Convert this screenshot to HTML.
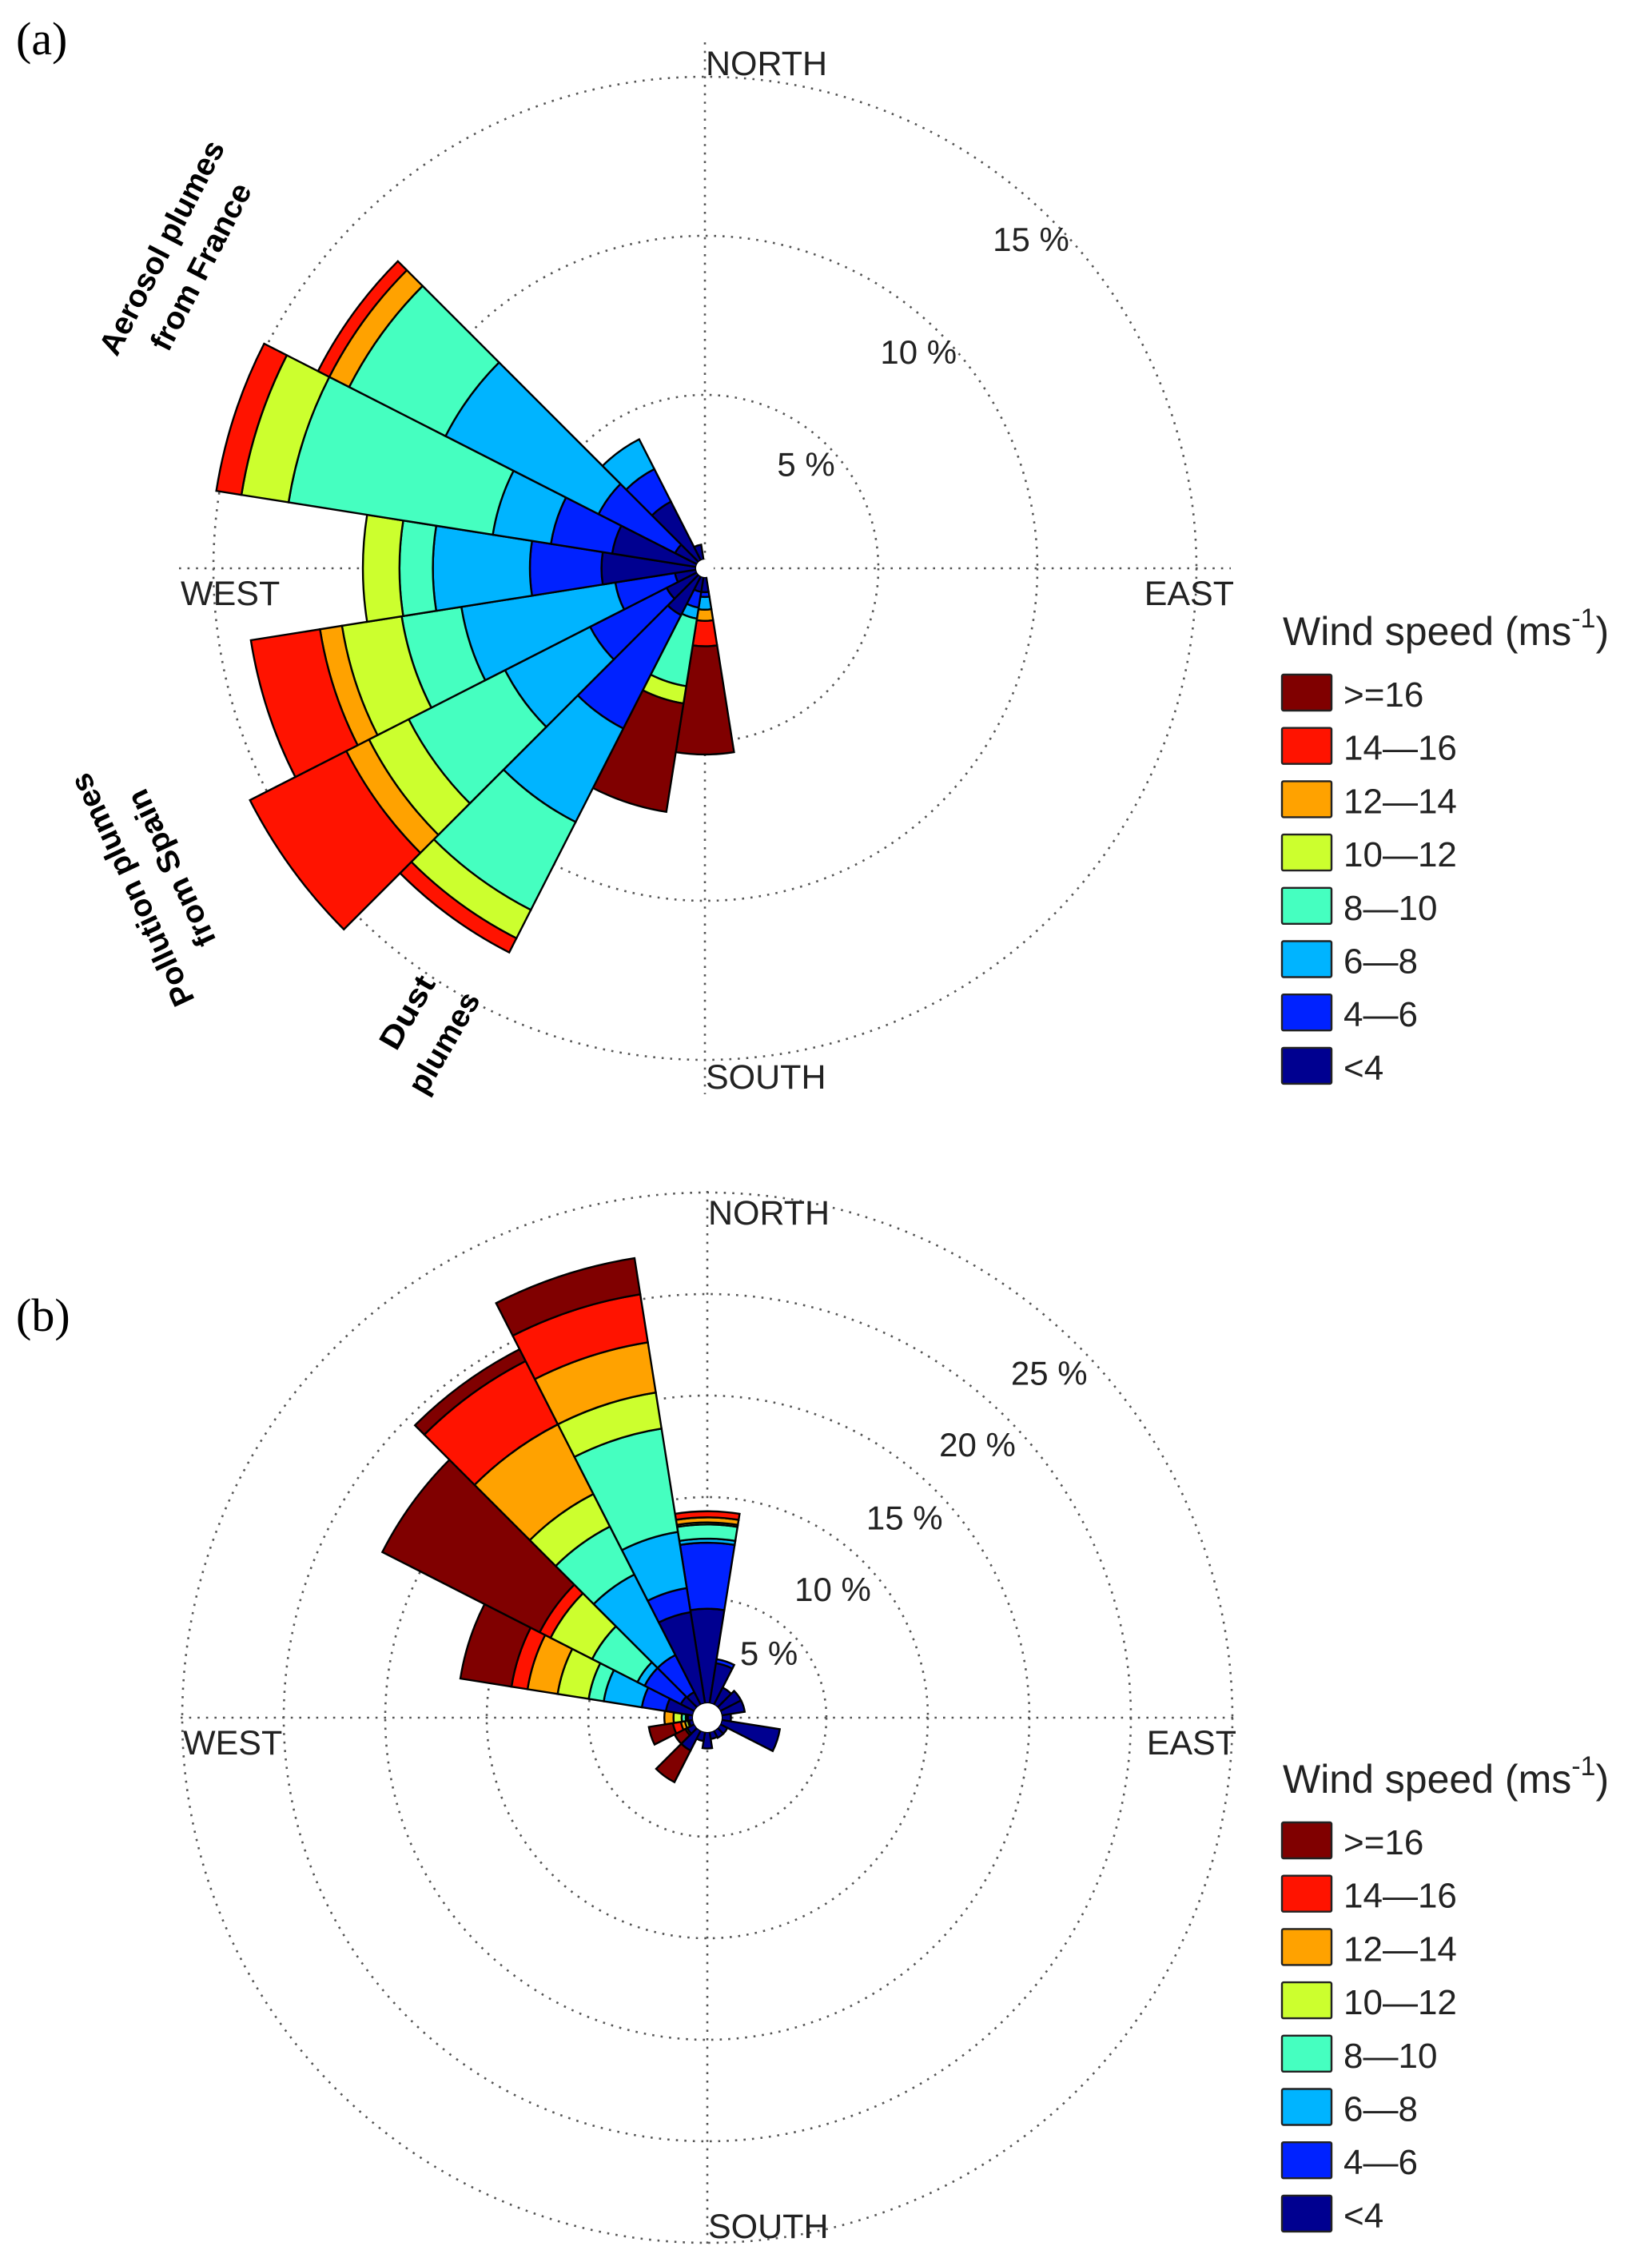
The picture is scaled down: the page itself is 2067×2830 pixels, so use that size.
<!DOCTYPE html>
<html><head><meta charset="utf-8"><style>
html,body{margin:0;padding:0;background:#fff;}
svg{display:block;}
text{font-family:"Liberation Sans",sans-serif;fill:#222;}
</style></head><body>
<svg id="fig" width="2067" height="2830" viewBox="0 0 2067 2830" xmlns="http://www.w3.org/2000/svg">
<rect x="0" y="0" width="2067" height="2830" fill="#fff"/>
<g id="gA"></g>
<g id="gB"></g>
<text x="20" y="68" style="font-family:'Liberation Serif',serif;font-size:58px;fill:#000">(a)</text>
<text x="20" y="1665" style="font-family:'Liberation Serif',serif;font-size:58px;fill:#000">(b)</text>
<g style="font-family:'Liberation Sans','DejaVu Sans',sans-serif;font-weight:bold;font-size:39px">
<text transform="translate(205,311) rotate(-62.7)" text-anchor="middle" dominant-baseline="middle" textLength="296" lengthAdjust="spacingAndGlyphs" style="fill:#000;font-weight:bold">Aerosol plumes</text>
<text transform="translate(254,335) rotate(-62.7)" text-anchor="middle" dominant-baseline="middle" textLength="230" lengthAdjust="spacingAndGlyphs" style="fill:#000;font-weight:bold">from France</text>
<text transform="translate(168,1112) rotate(-115)" text-anchor="middle" dominant-baseline="middle" textLength="316" lengthAdjust="spacingAndGlyphs" style="fill:#000;font-weight:bold">Pollution plumes</text>
<text transform="translate(217,1085) rotate(-115)" text-anchor="middle" dominant-baseline="middle" textLength="212" lengthAdjust="spacingAndGlyphs" style="fill:#000;font-weight:bold">from Spain</text>
<text transform="translate(512,1268) rotate(-60)" text-anchor="middle" dominant-baseline="middle" textLength="100" lengthAdjust="spacingAndGlyphs" style="fill:#000;font-weight:bold">Dust</text>
<text transform="translate(558,1306) rotate(-60)" text-anchor="middle" dominant-baseline="middle" textLength="140" lengthAdjust="spacingAndGlyphs" style="fill:#000;font-weight:bold">plumes</text>
</g>
</svg>
<script>
// ---- data ----
var directions = [0,18,36,54,72,90,108,126,144,162,180,198,216,234,252,270,288,306,324,342];
var speedLabels = [">=16","14\u201416","12\u201414","10\u201412","8\u201410","6\u20148","4\u20146","<4"];
var ringsA = [5,10,15];
var ringLabelsA = ["5 %","10 %","15 %"];
var ringsB = [5,10,15,20,25];
var ringLabelsB = ["5 %","10 %","15 %","20 %","25 %"];
// panel (a), % frequency per speed class, by direction bin
var aLt4   = [0,0,0,0,0,0,0,0,0,0,0.3,0.3,1.2,0.9,0.5,2.8,2.5,0.6,1.9,0.3];
var a4to6  = [0,0,0,0,0,0,0,0,0,0,0.15,0.5,4.0,2.7,1.9,2.25,1.95,2.7,1.15,0];
var a6to8  = [0,0,0,0,0,0,0,0,0,0,0.4,0.35,3.3,3.0,4.9,3.05,1.85,5.4,1.05,0];
var a8to10 = [0,0,0,0,0,0,0,0,0,0,0,2.15,3.1,3.4,1.9,1.05,6.5,3.4,0,0];
var a10to12= [0,0,0,0,0,0,0,0,0,0,0,0.55,1.0,1.4,1.9,1.15,1.5,0,0,0];
var a12to14= [0,0,0,0,0,0,0,0,0,0,0.35,0,0,0.8,0.7,0,0,0.7,0,0];
var a14to16= [0,0,0,0,0,0,0,0,0,0,0.8,0,0.5,3.4,2.2,0,0.8,0.4,0,0];
var aGe16  = [0,0,0,0,0,0,0,0,0,0,3.4,3.45,0,0,0,0,0,0,0,0];
// panel (b)
var bLt4   = [4.5,1.85,0.8,1.0,1.0,0.3,2.75,0.25,0.25,0.2,0.65,0.3,0.95,0.25,0.05,0.1,1.2,0.6,0.55,4.4];
var b4to6  = [3.25,0.2,0,0,0,0,0,0,0,0,0,0,0,0,0,0.05,1.2,2.0,2.05,1.2];
var b6to8  = [0.2,0,0,0,0,0,0,0,0,0,0,0,0,0,0,0.05,1.9,0.4,4.45,2.8];
var b8to10 = [0.7,0,0,0,0,0,0,0,0,0,0,0,0,0,0.05,0.2,0.75,2.5,2.65,5.15];
var b10to12= [0.1,0,0,0,0,0,0,0,0,0,0,0,0,0.1,0.15,0.4,1.55,2.3,1.8,1.8];
var b12to14= [0.25,0,0,0,0,0,0,0,0,0,0,0,0,0,0.2,0.45,1.5,0,3.85,2.5];
var b14to16= [0.3,0,0,0,0,0,0,0,0,0,0,0,0,0,0.4,0,0.8,0.6,3.5,2.4];
var bGe16  = [0,0,0,0,0,0,0,0,0,0,0,0,1.75,0.6,1.2,0,2.55,8.7,0.65,1.8];

var classColors = ["#000090","#0022ff","#00b4ff","#45ffc0","#ccff2e","#ffa200","#ff1300","#800000"];
var classNames = ["lt4","4-6","6-8","8-10","10-12","12-14","14-16","ge16"];
var NS="http://www.w3.org/2000/svg";
function mk(tag, attrs, parent){var e=document.createElementNS(NS,tag);for(var k in attrs)e.setAttribute(k,attrs[k]);parent.appendChild(e);return e;}

function drawRose(g, cfg, series, rings, ringLabels, tag){
  var cx=cfg.cx, cy=cfg.cy;
  function rad(v){return cfg.r0 + cfg.k*v;}
  function pt(r,deg){var a=deg*Math.PI/180;return [cx+r*Math.sin(a), cy-r*Math.cos(a)];}
  // grid rings
  rings.forEach(function(v,i){
    var c=mk('circle',{cx:cx,cy:cy,r:rad(v),fill:'none',stroke:'#555','stroke-width':2.6,'stroke-dasharray':'2.6 8'},g);
    
    
  });
  var L=cfg.axisLen;
  var h=mk('line',{x1:cx-L,y1:cy,x2:cx+L,y2:cy,stroke:'#555','stroke-width':2.6,'stroke-dasharray':'2.6 8'},g);
  
  
  var vl=mk('line',{x1:cx,y1:cy-L,x2:cx,y2:cy+L,stroke:'#555','stroke-width':2.6,'stroke-dasharray':'2.6 8'},g);
  
  
  // wedges
  var half=9;
  for(var d=0; d<directions.length; d++){
    var cum=0;
    for(var s=0;s<series.length;s++){
      var val=series[s][d];
      if(val<=0) continue;
      var rIn = cum===0 ? cfg.hole : rad(cum);
      cum+=val;
      var rOut=rad(cum);
      var a1=directions[d]-half, a2=directions[d]+half;
      var p1=pt(rIn,a1),p2=pt(rOut,a1),p3=pt(rOut,a2),p4=pt(rIn,a2);
      var dstr='M'+p1[0]+' '+p1[1]+' L'+p2[0]+' '+p2[1]+' A'+rOut+' '+rOut+' 0 0 1 '+p3[0]+' '+p3[1]+' L'+p4[0]+' '+p4[1]+' A'+rIn+' '+rIn+' 0 0 0 '+p1[0]+' '+p1[1]+' Z';
      var w=mk('path',{d:dstr,fill:classColors[s],stroke:'#000','stroke-width':2.4,'stroke-linejoin':'miter'},g);
      
      
    }
  }
  var hole=mk('circle',{cx:cx,cy:cy,r:cfg.hole,fill:'#fff'},g);
  
  
  // ring labels
  rings.forEach(function(v,i){
    var r=rad(v)-cfg.labOff[i];
    var p=pt(r,45);
    var t=mk('text',{x:p[0],y:p[1],'text-anchor':'middle','dominant-baseline':'middle','font-size':42},g);
    t.textContent=ringLabels[i];
    
    
  });
  // compass labels
  var comp=[["NORTH",cx+1,cy-617,'start'],["SOUTH",cx+1,cy+651,'start'],["WEST",cx-656,cy+46,'start'],["EAST",cx+662,cy+46,'end']];
  comp.forEach(function(c){
    var t=mk('text',{x:c[1],y:c[2],'text-anchor':c[3],'font-size':43},g);
    t.textContent=c[0];
    
    
  });
  // legend
  var lg=mk('g',{},g);
  
  
  var ty=cfg.legY;
  var title=mk('text',{x:1605,y:ty,'font-size':50},lg);
  
  
  var t1=mk('tspan',{},title);t1.textContent='Wind speed (ms';
  var t2=mk('tspan',{dy:-22,'font-size':34},title);t2.textContent='-1';
  var t3=mk('tspan',{dy:22},title);t3.textContent=')';
  for(var i=0;i<speedLabels.length;i++){
    var y0=ty+37+i*66.7;
    var ci=classColors.length-1-i;
    var sw=mk('rect',{x:1604,y:y0,width:62,height:45,fill:classColors[ci],stroke:'#222','stroke-width':2.4,rx:2},lg);
    
    
    var lt=mk('text',{x:1681,y:y0+40,'font-size':44},lg);
    lt.textContent=speedLabels[i];
    
    
  }
}
drawRose(document.getElementById('gA'),
  {cx:882,cy:711,r0:18,k:39.8,hole:11,axisLen:658,legY:807,labOff:[38,38,38]},
  [aLt4,a4to6,a6to8,a8to10,a10to12,a12to14,a14to16,aGe16], ringsA, ringLabelsA, 'a');
drawRose(document.getElementById('gB'),
  {cx:885,cy:2149,r0:22,k:25.4,hole:18,axisLen:659,legY:2243,labOff:[40,54,54,52,52]},
  [bLt4,b4to6,b6to8,b8to10,b10to12,b12to14,b14to16,bGe16], ringsB, ringLabelsB, 'b');
</script>
</body></html>
